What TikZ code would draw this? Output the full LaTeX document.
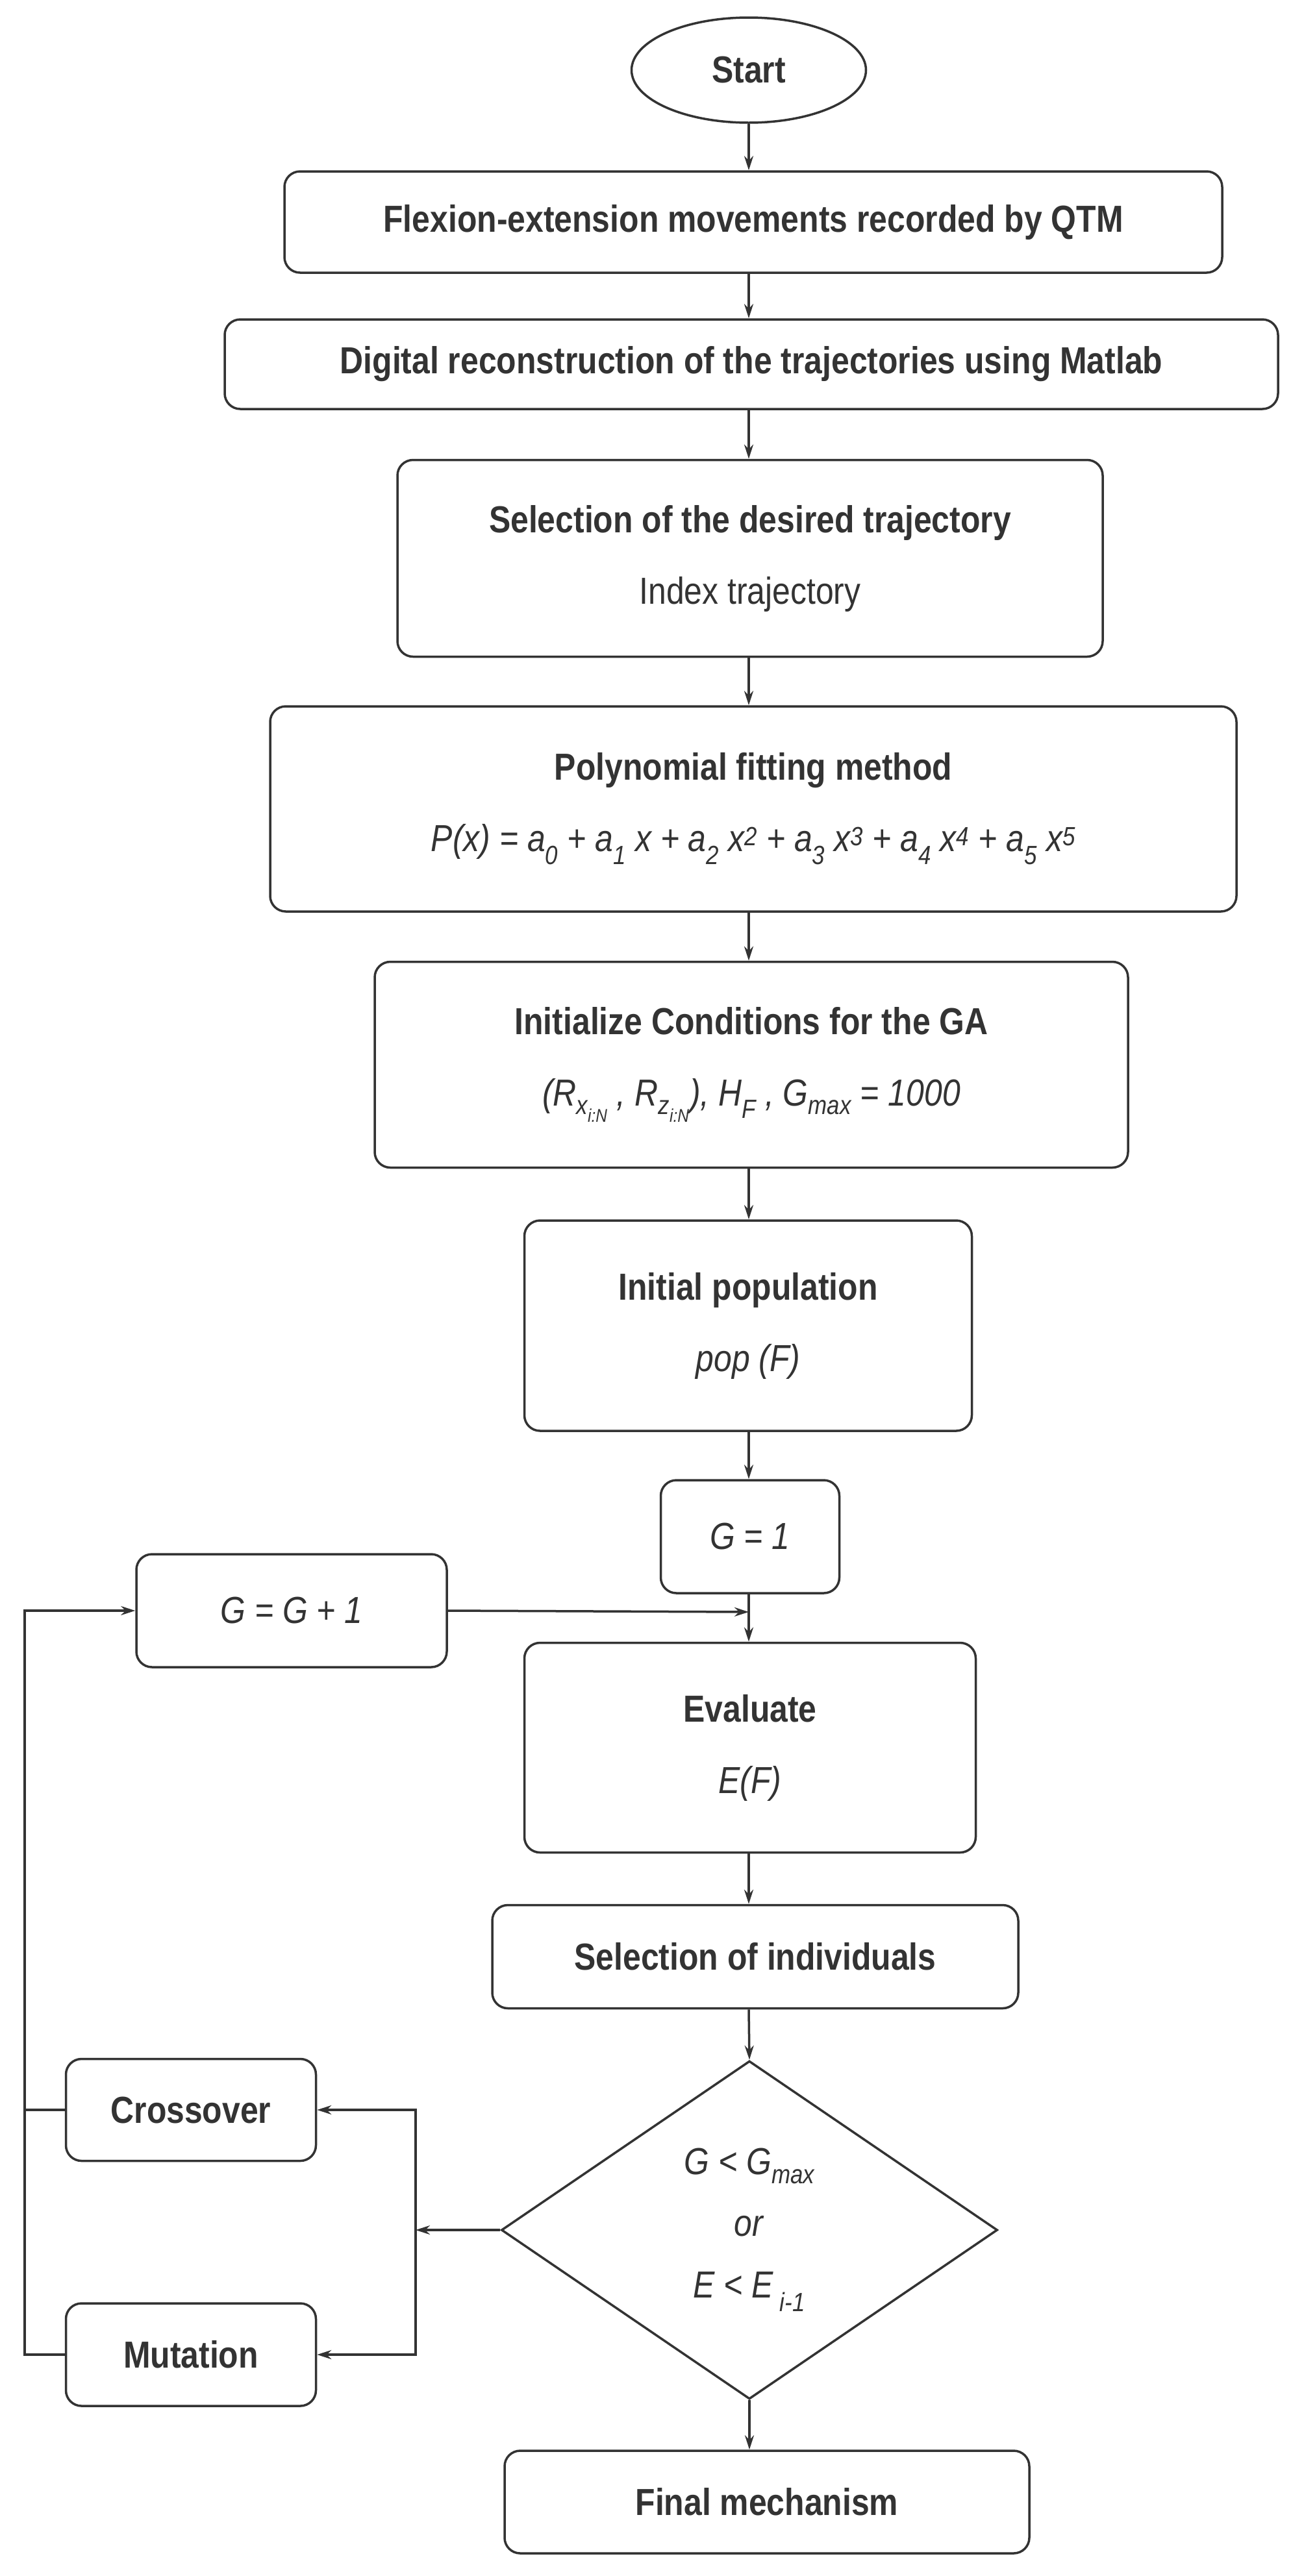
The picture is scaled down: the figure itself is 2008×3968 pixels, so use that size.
\documentclass[tikz,border=0pt]{standalone}
\usepackage{fontspec}
\setmainfont{Liberation Sans}[FakeStretch=0.86]
\usetikzlibrary{shapes.geometric,arrows.meta}
\definecolor{ink}{HTML}{333333}
\begin{document}
\begin{tikzpicture}[x=1pt,y=-1pt,
  every node/.style={text=ink,font=\fontsize{58}{70}\selectfont},
  box/.style={draw=ink,line width=3.5pt,rounded corners=24pt,inner sep=0pt,align=center},
  arr/.style={draw=ink,line width=3.5pt,-{Stealth[length=22pt,width=14pt]}},
  ln/.style={draw=ink,line width=3.5pt}]
\useasboundingbox (0,0) rectangle (2008,3968);
\node[draw=ink,line width=3.5pt,ellipse,minimum width=361pt,minimum height=162pt,inner sep=0pt] (start) at (1153,108) {\textbf{Start}};
\node[box,minimum width=1444pt,minimum height=156pt] (b1) at (1160,342) {\textbf{Flexion-extension movements recorded by QTM}};
\node[box,minimum width=1622pt,minimum height=138pt] (b2) at (1157,561) {\textbf{Digital reconstruction of the trajectories using Matlab}};
\node[box,minimum width=1086pt,minimum height=303pt] (b3) at (1155,860) {\textbf{Selection of the desired trajectory}\\[40pt] Index trajectory};
\node[box,minimum width=1488pt,minimum height=316pt] (b4) at (1160,1246) {\textbf{Polynomial fitting method}\\[40pt] \textit{P(x) = a\textsubscript{0} + a\textsubscript{1} x + a\textsubscript{2} x\textsuperscript{2} + a\textsubscript{3} x\textsuperscript{3} + a\textsubscript{4} x\textsuperscript{4} + a\textsubscript{5} x\textsuperscript{5}}};
\node[box,minimum width=1160pt,minimum height=317pt] (b5) at (1157,1640) {\textbf{Initialize Conditions for the GA}\\[40pt] \textit{(R\textsubscript{x\textsubscript{i:N}} , R\textsubscript{z\textsubscript{i:N}}), H\textsubscript{F} , G\textsubscript{max} = 1000}};
\node[box,minimum width=689pt,minimum height=324pt] (b6) at (1152,2042) {\textbf{Initial population}\\[40pt] \textit{pop (F)}};
\node[box,minimum width=275pt,minimum height=174pt] (g1) at (1155,2367) {\textit{G = 1}};
\node[box,minimum width=478pt,minimum height=174pt] (gg) at (449,2481) {\textit{G = G + 1}};
\node[box,minimum width=695pt,minimum height=323pt] (ev) at (1155,2692) {\textbf{Evaluate}\\[40pt] \textit{E(F)}};
\node[box,minimum width=810pt,minimum height=159pt] (sel) at (1163,3014) {\textbf{Selection of individuals}};
\node[draw=ink,line width=3.5pt,diamond,minimum width=764pt,minimum height=521pt,inner sep=0pt,align=center] (dec) at (1154,3435) {\textit{G < G\textsubscript{max}}\\[25pt] \textit{or}\\[25pt] \textit{E < E\textsubscript{ i-1}}};
\node[box,minimum width=385pt,minimum height=157pt] (cr) at (294,3250) {\textbf{Crossover}};
\node[box,minimum width=385pt,minimum height=158pt] (mu) at (294,3627) {\textbf{Mutation}};
\node[box,minimum width=808pt,minimum height=158pt] (fin) at (1181,3854) {\textbf{Final mechanism}};
\coordinate (j) at (1153,2483);
\coordinate (s) at (640,3435);
\draw[arr] (start.south) -- (start.south |- b1.north);
\draw[arr] (b1.south -| start) -- (b2.north -| start);
\draw[arr] (b2.south -| start) -- (b3.north -| start);
\draw[arr] (b3.south -| start) -- (b4.north -| start);
\draw[arr] (b4.south -| start) -- (b5.north -| start);
\draw[arr] (b5.south -| start) -- (b6.north -| start);
\draw[arr] (b6.south -| start) -- (g1.north -| start);
\draw[arr] (g1.south -| start) -- (ev.north -| start);
\draw[arr] (gg.east) -- (j);
\draw[arr] (ev.south -| start) -- (sel.north -| start);
\draw[arr] (sel.south -| start) -- (dec.north);
\draw[arr] (dec.south) -- (dec.south |- fin.north);
\draw[arr] (dec.west) -- (s);
\draw[arr] (s) |- (cr.east);
\draw[arr] (s) |- (mu.east);
\draw[ln] (cr.west) -- (38,3250);
\draw[arr] (mu.west) -- (38,3627) -- (38,2481) -- (gg.west);
\end{tikzpicture}
\end{document}
